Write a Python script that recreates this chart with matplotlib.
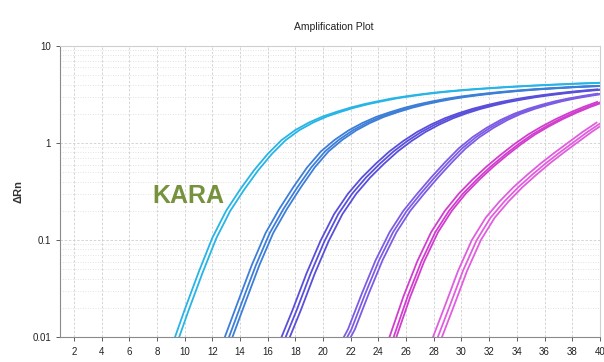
import matplotlib
matplotlib.use("Agg")
import matplotlib.pyplot as plt
from matplotlib.ticker import LogLocator, NullFormatter, FixedLocator
import numpy as np

plt.rcParams["font.family"] = ["Liberation Sans", "DejaVu Sans"]

# cycle at which each group's first listed value sits, and values per cycle
group_start = [8, 12, 16, 20, 24, 27]
group_values = [
    [0.0032, 0.0075, 0.019, 0.046, 0.105, 0.2, 0.33, 0.52, 0.77, 1.07, 1.36,
     1.63, 1.88, 2.1, 2.32, 2.52, 2.7, 2.88, 3.03, 3.17, 3.3, 3.41, 3.51, 3.6,
     3.68, 3.76, 3.83, 3.9, 3.96, 4.02, 4.08, 4.13, 4.18],
    [0.0045, 0.0095, 0.023, 0.055, 0.118, 0.21, 0.35, 0.56, 0.82, 1.08, 1.35,
     1.61, 1.86, 2.08, 2.3, 2.5, 2.68, 2.85, 3.0, 3.13, 3.25, 3.36, 3.46, 3.55,
     3.63, 3.7, 3.77, 3.83, 3.88],
    [0.0045, 0.0085, 0.019, 0.045, 0.097, 0.185, 0.3, 0.44, 0.61, 0.82, 1.05,
     1.3, 1.55, 1.8, 2.03, 2.25, 2.45, 2.64, 2.81, 2.97, 3.11, 3.24, 3.36, 3.47,
     3.57],
    [0.0035, 0.0065, 0.012, 0.028, 0.062, 0.12, 0.2, 0.3, 0.44, 0.63, 0.88,
     1.15, 1.43, 1.72, 2.0, 2.25, 2.48, 2.7, 2.89, 3.06, 3.22],
    [0.0045, 0.01, 0.026, 0.06, 0.12, 0.2, 0.3, 0.42, 0.57, 0.75, 0.97, 1.22,
     1.48, 1.76, 2.05, 2.35, 2.65],
    [0.0045, 0.0085, 0.02, 0.048, 0.1, 0.17, 0.25, 0.35, 0.47, 0.62, 0.8, 1.02,
     1.3, 1.62],
]
# replicate offsets (cycles) within each group
replicate_shift = [
    [0.0, 0.3],
    [-0.15, 0.15, 0.4],
    [-0.2, 0.1, 0.4],
    [-0.2, 0.05, 0.3],
    [-0.2, 0.1, 0.3],
    [-0.25, 0.1, 0.4],
]
group_colors = ["#27b4e6", "#3d7ed8", "#5a4fda", "#7d5ce4", "#d13ecf", "#e05ede"]

x_ticks = list(range(2, 41, 2))
y_ticks = [0.01, 0.1, 1, 10]
y_labels = ["0.01", "0.1", "1", "10"]

fig = plt.figure(figsize=(6.04, 3.62), dpi=100)
ax = fig.add_axes([0.0993, 0.069, 0.894, 0.804])

for start, vals, shifts, col in zip(group_start, group_values, replicate_shift, group_colors):
    cyc = np.arange(start, start + len(vals))
    for s in shifts:
        ax.plot(cyc + s, vals, color=col, lw=1.3, solid_joinstyle="round")

ax.set_yscale("log")
ax.set_xlim(1, 40)
ax.set_ylim(0.01, 10)
ax.xaxis.set_major_locator(FixedLocator(x_ticks))
ax.set_yticks(y_ticks)
ax.set_yticklabels(y_labels)
ax.yaxis.set_minor_locator(LogLocator(base=10, subs=np.arange(2, 10)))
ax.yaxis.set_minor_formatter(NullFormatter())

ax.grid(True, which="major", axis="both", color="#cfcfcf", lw=0.6, ls=(0, (3, 2)))
ax.grid(True, which="minor", axis="y", color="#d9d9d9", lw=0.6, ls=(0, (1, 2)))
ax.set_axisbelow(True)

for side in ["left", "bottom"]:
    ax.spines[side].set_color("#8a8a8a")
for side in ["top", "right"]:
    ax.spines[side].set_color("#cfcfcf")

ax.tick_params(axis="both", which="major", labelsize=7, colors="#444444",
               length=3, width=0.6, labelcolor="#222222")
ax.tick_params(axis="y", which="minor", length=0)
ax.tick_params(axis="x", pad=4)

ax.set_ylabel("ΔRn", fontsize=8, fontweight="bold", color="#333333", labelpad=6)
fig.text(0.553, 0.925, "Amplification Plot", ha="center", va="center",
         fontsize=7.5, color="#222222")

ax.text(0.172, 0.485, "KARA", transform=ax.transAxes, fontsize=18,
        fontweight="bold", color="#76923c", ha="left", va="center")

fig.savefig("out.png", dpi=100)
